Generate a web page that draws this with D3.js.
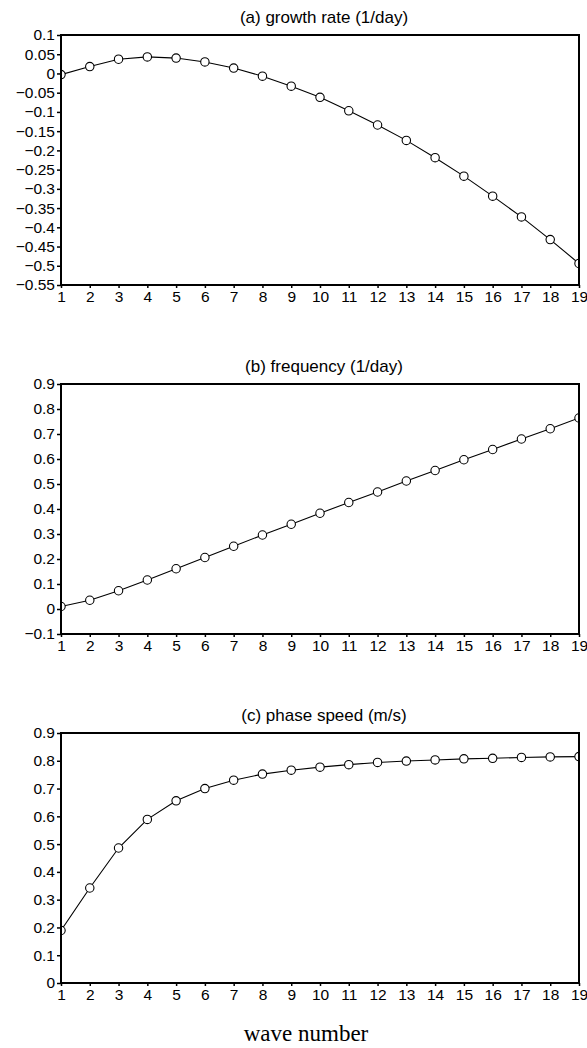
<!DOCTYPE html>
<meta charset="utf-8">
<title>wave number</title>
<script src="https://cdn.jsdelivr.net/npm/d3@7"></script>
<style>
  body { margin:0; padding:0; background:#fff; }
  .title { font-family: 'Liberation Sans', Arial, sans-serif; font-size: 17px; }
  .xlabel { font-family: 'Liberation Serif', 'Times New Roman', serif; font-size: 23px; }
</style>
<body>
<svg id="chart" width="587" height="1048"></svg>
<script>

var waveNumber = d3.range(1, 20);

var growthRate = [-0.003, 0.018, 0.037, 0.043, 0.040, 0.030, 0.014, -0.007, -0.033, -0.062,
                  -0.097, -0.134, -0.174, -0.219, -0.267, -0.319, -0.373, -0.432, -0.494];
var frequency = [0.010, 0.035, 0.073, 0.116, 0.161, 0.206, 0.251, 0.296, 0.339, 0.383,
                 0.426, 0.468, 0.512, 0.554, 0.597, 0.638, 0.680, 0.721, 0.764];
var phaseSpeed = [0.189, 0.342, 0.486, 0.589, 0.656, 0.700, 0.730, 0.752, 0.766, 0.777,
                  0.786, 0.794, 0.799, 0.803, 0.807, 0.809, 0.812, 0.814, 0.815];

var titles = ["(a) growth rate (1/day)", "(b) frequency (1/day)", "(c) phase speed (m/s)"];
var yDomains = [[-0.55, 0.1], [-0.1, 0.9], [0, 0.9]];
var yTickSteps = [0.05, 0.1, 0.1];

var svg = d3.select("#chart");
var left = 61, right = 579;
var panelTops = [35, 384, 733],
    panelH = 250;

var x = d3.scaleLinear().domain([1, 19]).range([left, right]);
var fmt = d3.format("~g");

var series = [growthRate, frequency, phaseSpeed];

series.forEach(function(vals, p) {
  var top = panelTops[p], bottom = top + panelH;
  var y = d3.scaleLinear().domain(yDomains[p]).range([bottom, top]);
  var g = svg.append("g");

  var yTicks = d3.range(Math.round((yDomains[p][1] - yDomains[p][0]) / yTickSteps[p]) + 1)
    .map(function(i) { return +(yDomains[p][0] + i * yTickSteps[p]).toFixed(3); });

  // title
  g.append("text")
    .attr("class", "title")
    .attr("x", (left + right) / 2 + 4)
    .attr("y", top - 12)
    .attr("text-anchor", "middle")
    .text(titles[p]);

  // clip for the data
  g.append("clipPath").attr("id", "clip" + p)
    .append("rect")
    .attr("x", left).attr("y", top)
    .attr("width", right - left).attr("height", panelH);

  var line = d3.line()
    .x(function(d, i) { return x(waveNumber[i]); })
    .y(function(d) { return y(d); });

  var data = g.append("g").attr("clip-path", "url(#clip" + p + ")");
  data.append("path")
    .datum(vals)
    .attr("d", line)
    .attr("fill", "none")
    .attr("stroke", "#000")
    .attr("stroke-width", 1.1);

  data.selectAll("circle")
    .data(vals)
    .enter().append("circle")
    .attr("cx", function(d, i) { return x(waveNumber[i]); })
    .attr("cy", function(d) { return y(d); })
    .attr("r", 4.2)
    .attr("fill", "#fff")
    .attr("stroke", "#000")
    .attr("stroke-width", 1.1);

  // axes
  var yAxis = d3.axisLeft(y).tickValues(yTicks).tickFormat(fmt).tickSize(4).tickPadding(2);
  g.append("g").attr("transform", "translate(" + left + ",0)").call(yAxis);

  var xAxis = d3.axisBottom(x).tickValues(waveNumber).tickFormat(d3.format("d")).tickSize(3).tickPadding(3);
  g.append("g").attr("transform", "translate(0," + bottom + ")").call(xAxis);

  g.selectAll(".domain").remove();
  g.selectAll(".tick line").attr("stroke-width", 1.5);
  g.selectAll(".tick text")
    .style("font-family", "'Liberation Sans', Arial, sans-serif")
    .style("font-size", "15.5px")
    .style("fill", "#000");

  // frame
  g.append("rect")
    .attr("x", left).attr("y", top)
    .attr("width", right - left).attr("height", panelH)
    .attr("fill", "none")
    .attr("stroke", "#000")
    .attr("stroke-width", 2);
});

svg.append("text")
  .attr("class", "xlabel")
  .attr("x", 306)
  .attr("y", 1041)
  .attr("text-anchor", "middle")
  .text("wave number");

</script>
</body>
